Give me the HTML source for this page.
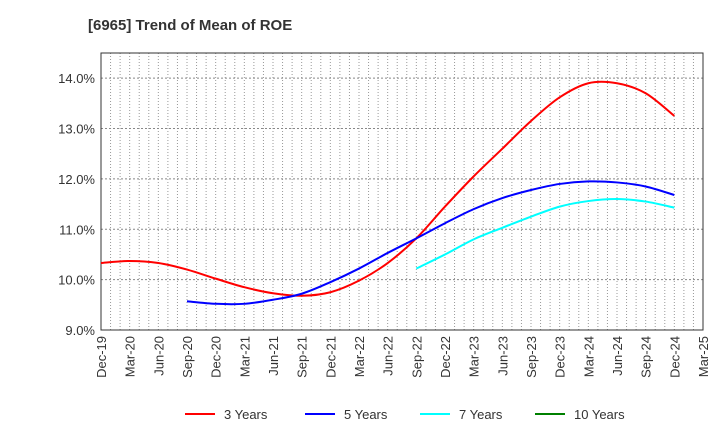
<!DOCTYPE html>
<html><head><meta charset="utf-8"><style>
body{margin:0;background:#fff;font-family:"Liberation Sans",sans-serif}
svg text{font-family:"Liberation Sans",sans-serif}
</style></head><body>
<svg id="c" width="720" height="440" xmlns="http://www.w3.org/2000/svg">
<text x="88" y="30" font-size="15" font-weight="bold" fill="#333">[6965]  Trend of Mean of ROE</text>
<g id="grid"></g><g id="axes"></g><g id="series"></g><g id="legend"></g>
</svg>
<script>
const categories=["Dec-19","Mar-20","Jun-20","Sep-20","Dec-20","Mar-21","Jun-21","Sep-21","Dec-21","Mar-22","Jun-22","Sep-22","Dec-22","Mar-23","Jun-23","Sep-23","Dec-23","Mar-24","Jun-24","Sep-24","Dec-24","Mar-25"];
const yTicks=[9,10,11,12,13,14];
const s3=[10.33,10.37,10.33,10.2,10.02,9.85,9.73,9.68,9.75,9.98,10.33,10.82,11.45,12.05,12.6,13.15,13.62,13.9,13.9,13.7,13.25];
const s5=[null,null,null,9.57,9.52,9.52,9.6,9.72,9.95,10.22,10.53,10.82,11.12,11.4,11.62,11.78,11.9,11.95,11.93,11.85,11.68];
const s7=[null,null,null,null,null,null,null,null,null,null,null,10.22,10.5,10.8,11.03,11.25,11.45,11.56,11.6,11.55,11.43];
const s10=[];
const seriesNames=["3 Years","5 Years","7 Years","10 Years"];
const colors=["#ff0000","#0000ff","#00ffff","#008000"];
const L=101,R=703,T=53,B=330,ymin=9,ymax=14.5;
const ns="http://www.w3.org/2000/svg";
const X=i=>L+(R-L)*i/(categories.length-1);
const Xm=m=>L+(R-L)*m/((categories.length-1)*3);
const Y=v=>B-(v-ymin)/(ymax-ymin)*(B-T);
function mk(t,a,p){const e=document.createElementNS(ns,t);for(const k in a)e.setAttribute(k,a[k]);p.appendChild(e);return e;}
const g=document.getElementById('grid'),ax=document.getElementById('axes'),sg=document.getElementById('series'),lg=document.getElementById('legend');
for(let m=1;m<(categories.length-1)*3;m++){const l=mk('line',{x1:Xm(m),x2:Xm(m),y1:T,y2:B,stroke:'#999','stroke-dasharray':'1,2','stroke-width':1},g);

}
yTicks.forEach(v=>{if(v>ymin){const l=mk('line',{x1:L,x2:R,y1:Y(v),y2:Y(v),stroke:'#888','stroke-dasharray':'2,2'},g);

}
const t=mk('text',{x:L-6,y:Y(v)+5,'text-anchor':'end','font-size':13,fill:'#333'},ax);t.textContent=v.toFixed(1)+'%';

});
const fr=mk('rect',{x:L,y:T,width:R-L,height:B-T,fill:'none',stroke:'#333'},ax);


categories.forEach((c,i)=>{const t=mk('text',{transform:`translate(${X(i)+5},${B+6}) rotate(-90)`,'text-anchor':'end','font-size':13,fill:'#333'},ax);t.textContent=c;

});
function path(arr){const p=[];arr.forEach((v,i)=>{if(v!=null)p.push([X(i),Y(v)]);});if(p.length<2)return '';
let d=`M${p[0][0]},${p[0][1]}`;for(let i=0;i<p.length-1;i++){const p0=p[i-1]||p[i],p1=p[i],p2=p[i+1],p3=p[i+2]||p2;
d+=`C${p1[0]+(p2[0]-p0[0])/6},${p1[1]+(p2[1]-p0[1])/6} ${p2[0]-(p3[0]-p1[0])/6},${p2[1]-(p3[1]-p1[1])/6} ${p2[0]},${p2[1]}`;}return d;}
[s3,s5,s7,s10].forEach((s,k)=>{const d=path(s);if(d){const e=mk('path',{d:d,fill:'none',stroke:colors[k],'stroke-width':2},sg);

}});
const lx=[185,305,420,535];
seriesNames.forEach((n,k)=>{const l=mk('line',{x1:lx[k],x2:lx[k]+30,y1:414,y2:414,stroke:colors[k],'stroke-width':2},lg);


const t=mk('text',{x:lx[k]+39,y:419,'font-size':13,fill:'#333'},lg);t.textContent=n;

});
</script>
</body></html>
